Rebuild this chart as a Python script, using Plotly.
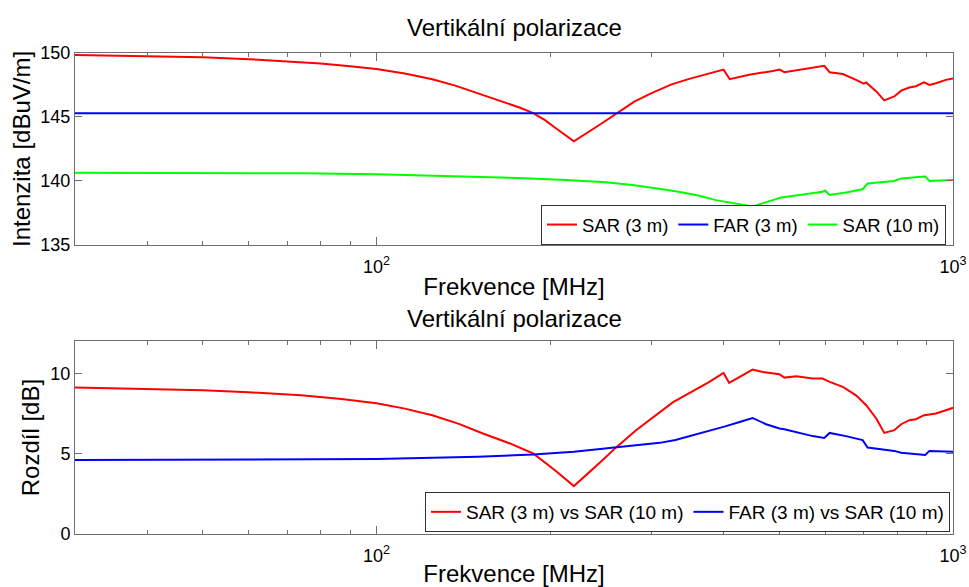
import plotly.graph_objects as go
import math

# ---------------- data ----------------
f_sar3 = [30, 40, 50, 60, 70, 80, 90, 100, 112, 125, 137, 150, 160, 170, 178, 187, 196, 205, 220,
          245, 261, 280, 300, 325, 350, 378, 400, 410, 443, 487, 500, 510, 542, 567, 598, 611, 644,
          679, 700, 707, 736, 760, 791, 813, 840, 862, 891, 910, 934, 972, 1000]
sar3 = [149.84, 149.76, 149.66, 149.52, 149.35, 149.18, 148.97, 148.75, 148.4, 147.95, 147.45,
        146.85, 146.45, 146.0, 145.7, 145.3, 144.75, 144.1, 143.1, 144.45, 145.3, 146.2, 146.87,
        147.55, 148.0, 148.4, 148.7, 147.95, 148.3, 148.6, 148.7, 148.5, 148.7, 148.8, 149.0,
        148.5, 148.36, 147.9, 147.6, 147.7, 147.0, 146.3, 146.6, 147.06, 147.3, 147.4, 147.7,
        147.5, 147.63, 147.9, 148.0]

f_far3 = [30, 1000]
far3 = [145.3, 145.3]

f_sar10 = [30, 50, 74, 100, 120, 143, 160, 180, 213, 230, 250, 278, 300, 320, 340, 363, 388, 420,
           449, 487, 503, 542, 594, 600, 611, 652, 697, 711, 745, 791, 813, 851, 895, 910, 1000]
sar10 = [140.65, 140.62, 140.6, 140.52, 140.44, 140.34, 140.28, 140.22, 140.08, 140.0, 139.9,
         139.69, 139.5, 139.3, 139.1, 138.85, 138.5, 138.2, 138.0, 138.5, 138.7, 138.9, 139.16,
         139.25, 138.9, 139.1, 139.35, 139.8, 139.9, 140.0, 140.2, 140.26, 140.34, 140.0, 140.08]

f_d1 = [30, 40, 50, 60, 74, 87, 100, 112, 125, 139, 153, 170, 187, 205, 220, 245, 261, 282, 300,
        327, 350, 378, 400, 409, 449, 468, 500, 510, 535, 571, 594, 611, 644, 679, 707, 736, 760,
        791, 813, 840, 862, 891, 910, 934, 972, 1000]
d1 = [9.11, 9.04, 8.94, 8.82, 8.63, 8.4, 8.14, 7.8, 7.39, 6.85, 6.25, 5.65, 5.01, 3.9, 2.98, 4.49,
      5.42, 6.46, 7.19, 8.2, 8.8, 9.46, 10.02, 9.4, 10.23, 10.08, 9.94, 9.73, 9.81, 9.67, 9.67,
      9.46, 9.15, 8.63, 8.01, 7.19, 6.29, 6.46, 6.83, 7.08, 7.14, 7.39, 7.43, 7.5, 7.7, 7.85]

f_d2 = [30, 100, 150, 187, 220, 250, 280, 310, 330, 363, 385, 404, 425, 449, 474, 500, 510, 542,
        571, 598, 611, 652, 697, 711, 757, 791, 813, 851, 895, 910, 1000]
d2 = [4.6, 4.66, 4.8, 4.95, 5.12, 5.32, 5.5, 5.67, 5.85, 6.25, 6.48, 6.71, 6.95, 7.22, 6.83,
      6.56, 6.52, 6.29, 6.09, 5.98, 6.29, 6.09, 5.84, 5.38, 5.28, 5.17, 5.05, 4.97, 4.91, 5.17,
      5.11]

x_tickvals = [100, 1000]
x_ticktext = ["10<sup>2</sup>", "10<sup>3</sup>"]
x_minor = [40, 50, 60, 70, 80, 90, 200, 300, 400, 500, 600, 700, 800, 900]
y1_ticks = [135, 140, 145, 150]
y2_ticks = [0, 5, 10]

title_text = "Vertikální polarizace"

# ---------------- figure ----------------
FONT = "Liberation Sans, Arial, Helvetica, sans-serif"
RED, BLUE, GREEN = "#ff0000", "#0000ff", "#00ff00"
AXC = "#6e6e6e"

fig = go.Figure()
fig.add_trace(go.Scatter(x=f_sar3, y=sar3, mode="lines", name="SAR (3 m)",
                         line=dict(color=RED, width=2), xaxis="x", yaxis="y", legend="legend"))
fig.add_trace(go.Scatter(x=f_far3, y=far3, mode="lines", name="FAR (3 m)",
                         line=dict(color=BLUE, width=2), xaxis="x", yaxis="y", legend="legend"))
fig.add_trace(go.Scatter(x=f_sar10, y=sar10, mode="lines", name="SAR (10 m)",
                         line=dict(color=GREEN, width=2), xaxis="x", yaxis="y", legend="legend"))
fig.add_trace(go.Scatter(x=f_d1, y=d1, mode="lines", name="SAR (3 m) vs SAR (10 m)",
                         line=dict(color=RED, width=2), xaxis="x2", yaxis="y2", legend="legend2"))
fig.add_trace(go.Scatter(x=f_d2, y=d2, mode="lines", name="FAR (3 m) vs SAR (10 m)",
                         line=dict(color=BLUE, width=2), xaxis="x2", yaxis="y2", legend="legend2"))

xr = [math.log10(30), 3]


def xaxis(anchor):
    return dict(type="log", range=xr, anchor=anchor, domain=[0, 1], automargin=False,
                tickvals=x_tickvals, ticktext=x_ticktext, ticks="inside", ticklen=8,
                tickcolor=AXC, showline=True, linecolor=AXC, linewidth=1, mirror="ticks",
                showgrid=False, zeroline=False, ticklabelstandoff=5,
                tickfont=dict(size=18, color="black"),
                minor=dict(tickvals=x_minor, ticks="inside", ticklen=4, tickcolor=AXC, showgrid=False),
                title=dict(text="Frekvence [MHz]", font=dict(size=24, color="black"), standoff=2))


def yaxis(anchor, domain, rng, tv, title, standoff):
    return dict(range=rng, domain=domain, anchor=anchor, tickvals=tv, ticks="inside", ticklen=7,
                automargin=False,
                tickcolor=AXC, showline=True, linecolor=AXC, linewidth=1, mirror="ticks",
                showgrid=False, zeroline=False, tickfont=dict(size=18, color="black"),
                title=dict(text=title, font=dict(size=24, color="black"), standoff=standoff))


fig.update_layout(
    width=969, height=587,
    margin=dict(l=75, r=16, t=53, b=53, autoexpand=False),
    paper_bgcolor="white", plot_bgcolor="white",
    font=dict(family=FONT, color="black"),
    xaxis=xaxis("y"),
    xaxis2=xaxis("y2"),
    yaxis=yaxis("x", [0.601, 1], [135, 150], y1_ticks, "Intenzita [dBuV/m]", 2),
    yaxis2=yaxis("x2", [0, 0.401], [0, 12], y2_ticks, "Rozdíl [dB]", 3),
    legend=dict(orientation="h", x=0.992, xanchor="right", y=0.6008, yanchor="bottom",
                bordercolor="#333333", borderwidth=1, bgcolor="white",
                font=dict(size=18.5, color="black")),
    legend2=dict(orientation="h", x=0.9966, xanchor="right", y=0.0042, yanchor="bottom",
                 bordercolor="#333333", borderwidth=1, bgcolor="white",
                 font=dict(size=19, color="black")),
    annotations=[
        dict(text=title_text, xref="paper", yref="paper", x=0.5, y=1.054, xanchor="center",
             yanchor="middle", showarrow=False, font=dict(size=24, color="black")),
        dict(text=title_text, xref="paper", yref="paper", x=0.5, y=0.449, xanchor="center",
             yanchor="middle", showarrow=False, font=dict(size=24, color="black")),
    ],
)

# remove the browser's default 8px body margin so the figure sits at the page origin
fig.write_html("out.html", config={"displayModeBar": False},
               post_script="document.body.style.margin='0';")
